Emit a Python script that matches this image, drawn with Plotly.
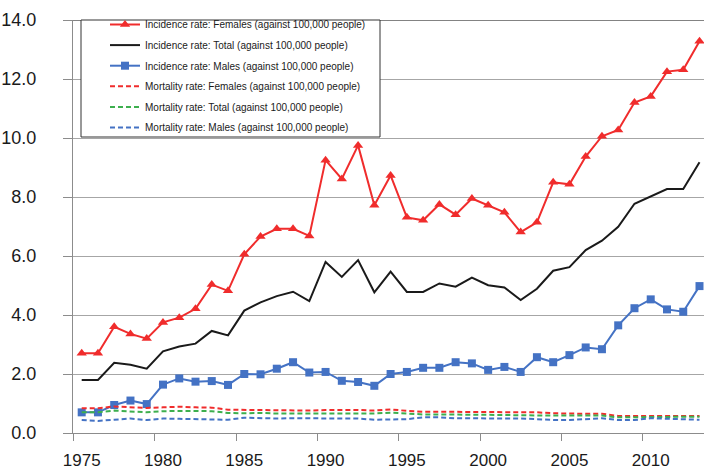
import plotly.graph_objects as go

years = list(range(1975, 2014))

inc_females = [2.70, 2.70, 3.60, 3.36, 3.20, 3.75, 3.91, 4.21, 5.03, 4.82,
               6.06, 6.66, 6.92, 6.92, 6.68, 9.25, 8.61, 9.75, 7.72, 8.73,
               7.31, 7.21, 7.75, 7.40, 7.95, 7.72, 7.48, 6.81, 7.14, 8.50,
               8.43, 9.37, 10.06, 10.27, 11.20, 11.41, 12.25, 12.31, 13.28]
inc_total = [1.80, 1.80, 2.38, 2.31, 2.18, 2.77, 2.93, 3.03, 3.46, 3.31,
             4.15, 4.43, 4.64, 4.79, 4.47, 5.80, 5.29, 5.86, 4.77, 5.47,
             4.78, 4.78, 5.07, 4.96, 5.27, 5.01, 4.93, 4.51, 4.89, 5.50,
             5.62, 6.20, 6.52, 6.99, 7.77, 8.03, 8.27, 8.27, 9.18]
inc_males = [0.70, 0.70, 0.95, 1.10, 0.98, 1.64, 1.85, 1.74, 1.76, 1.63,
             2.00, 1.99, 2.18, 2.40, 2.05, 2.07, 1.77, 1.73, 1.60, 2.00,
             2.07, 2.21, 2.21, 2.40, 2.36, 2.14, 2.24, 2.07, 2.57, 2.40,
             2.64, 2.90, 2.84, 3.65, 4.23, 4.53, 4.19, 4.11, 4.98]
mort_females = [0.84, 0.84, 0.90, 0.87, 0.85, 0.87, 0.89, 0.87, 0.86, 0.79,
                0.78, 0.79, 0.76, 0.76, 0.76, 0.78, 0.79, 0.78, 0.76, 0.80,
                0.75, 0.72, 0.72, 0.72, 0.72, 0.72, 0.71, 0.71, 0.70, 0.67,
                0.65, 0.65, 0.65, 0.58, 0.58, 0.58, 0.58, 0.58, 0.58]
mort_total = [0.70, 0.70, 0.76, 0.74, 0.70, 0.74, 0.75, 0.75, 0.74, 0.68,
              0.67, 0.68, 0.66, 0.66, 0.66, 0.67, 0.68, 0.67, 0.66, 0.69,
              0.66, 0.63, 0.63, 0.63, 0.63, 0.62, 0.61, 0.60, 0.59, 0.59,
              0.59, 0.59, 0.59, 0.53, 0.54, 0.55, 0.55, 0.55, 0.55]
mort_males = [0.44, 0.41, 0.45, 0.49, 0.44, 0.49, 0.48, 0.47, 0.46, 0.45,
              0.52, 0.50, 0.49, 0.50, 0.50, 0.49, 0.50, 0.49, 0.45, 0.46,
              0.47, 0.53, 0.53, 0.50, 0.50, 0.50, 0.50, 0.49, 0.47, 0.44,
              0.44, 0.47, 0.50, 0.44, 0.44, 0.50, 0.48, 0.45, 0.45]

y_ticks = [0, 2, 4, 6, 8, 10, 12, 14]
x_ticks = [1975, 1980, 1985, 1990, 1995, 2000, 2005, 2010]

RED = "#F02C2C"
BLUE = "#4472C4"
GREEN = "#3DAF4E"
BLACK = "#1A1A1A"

W, H = 704, 471
L, T, B = 73, 20, 38
PW, PH = W - L, H - T - B


def px_x(p):
    return (p - L) / PW


def px_y(p):
    return (H - B - p) / PH


fig = go.Figure()
fig.add_trace(go.Scatter(x=years, y=inc_females, mode="lines+markers",
                         name="Incidence rate: Females (against 100,000 people)",
                         line=dict(color=RED, width=2),
                         marker=dict(symbol="triangle-up", size=9, color=RED),
                         legendgroup="a", cliponaxis=False))
fig.add_trace(go.Scatter(x=years, y=inc_total, mode="lines",
                         name="Incidence rate: Total (against 100,000 people)",
                         line=dict(color=BLACK, width=2), legendgroup="b"))
fig.add_trace(go.Scatter(x=years, y=inc_males, mode="lines+markers",
                         name="Incidence rate: Males (against 100,000 people)",
                         line=dict(color=BLUE, width=2),
                         marker=dict(symbol="square", size=8, color=BLUE),
                         legendgroup="c", cliponaxis=False))
fig.add_trace(go.Scatter(x=years, y=mort_females, mode="lines",
                         name="Mortality rate: Females (against 100,000 people)",
                         line=dict(color=RED, width=2, dash="5px,3px"),
                         legendgroup="d"))
fig.add_trace(go.Scatter(x=years, y=mort_total, mode="lines",
                         name="Mortality rate: Total (against 100,000 people)",
                         line=dict(color=GREEN, width=2, dash="5px,3px"),
                         legendgroup="e"))
fig.add_trace(go.Scatter(x=years, y=mort_males, mode="lines",
                         name="Mortality rate: Males (against 100,000 people)",
                         line=dict(color=BLUE, width=2, dash="5px,3px"),
                         legendgroup="f"))

# top border line
fig.add_shape(type="line", xref="paper", yref="y", x0=0, x1=1, y0=14, y1=14,
              line=dict(color="#5A5A5A", width=1.5), layer="above")
# legend box
fig.add_shape(type="rect", xref="paper", yref="paper",
              x0=px_x(81), x1=px_x(380), y0=px_y(137), y1=px_y(20),
              line=dict(color="#333333", width=1), fillcolor="white",
              layer="above")

fig.update_layout(
    width=W, height=H,
    margin=dict(l=L, r=0, t=T, b=B),
    paper_bgcolor="white", plot_bgcolor="white",
    font=dict(family="Liberation Sans, Arial, sans-serif", color="#1A1A1A"),
    showlegend=True,
    legend=dict(x=px_x(105), y=px_y(10), xanchor="left", yanchor="top",
                bgcolor="rgba(0,0,0,0)", borderwidth=0,
                font=dict(size=10, color="#1A1A1A"),
                tracegroupgap=1.6, itemwidth=30),
    xaxis=dict(range=[1974.465, 2013.277], tickmode="array", tickvals=x_ticks,
               ticktext=[str(v) for v in x_ticks], ticks="", showgrid=False,
               showline=True, linecolor="#8C8C8C", linewidth=1,
               tickfont=dict(size=17), ticklabelstandoff=12, automargin=False,
               minor=dict(tickmode="array",
                          tickvals=[v - 0.5 for v in x_ticks],
                          ticks="outside", ticklen=7, tickcolor="#8C8C8C",
                          showgrid=False),
               zeroline=False),
    yaxis=dict(range=[0, 14], tickmode="array", tickvals=y_ticks,
               ticktext=[f"{v:.1f}" for v in y_ticks],
               ticks="outside", ticklen=9, tickcolor="#8C8C8C",
               showgrid=True, gridcolor="#A6A6A6", gridwidth=1,
               showline=True, linecolor="#8C8C8C", linewidth=1,
               tickfont=dict(size=18), ticklabelstandoff=23, automargin=False,
               zeroline=False),
)

fig.write_html("out.html", config={"displayModeBar": False},
               post_script="document.body.style.margin='0';"
                           "document.body.style.overflow='hidden';")
